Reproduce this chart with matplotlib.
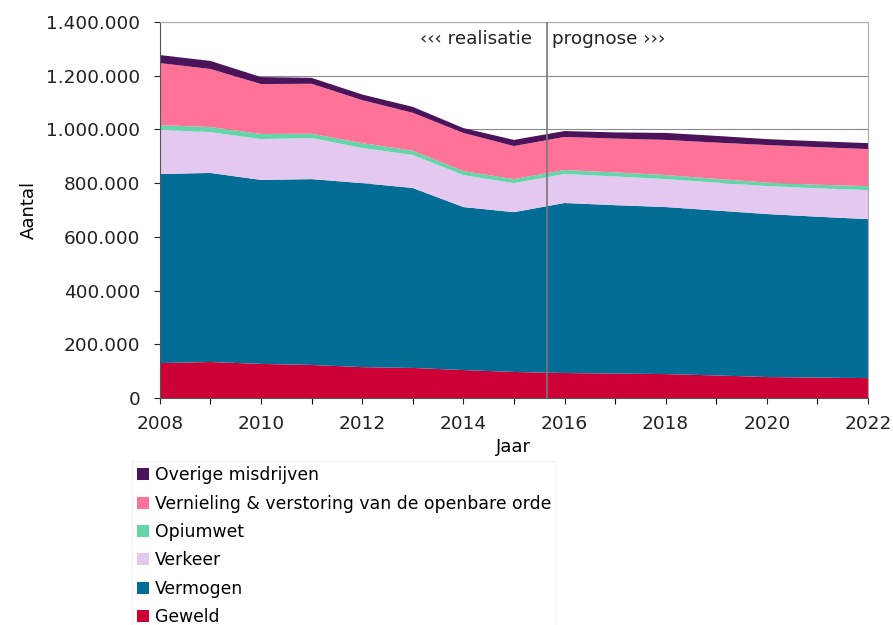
import matplotlib
matplotlib.use("Agg")
import matplotlib.pyplot as plt
from matplotlib.patches import Patch
from matplotlib.ticker import FuncFormatter, MultipleLocator

# jaren en aantallen per categorie
jaren = list(range(2008, 2023))
geweld = [130000, 134000, 127000, 123000, 115000, 112000, 104000, 97000,
          93000, 91000, 89000, 84000, 78000, 76000, 74000]
vermogen = [704000, 704000, 685000, 692000, 685000, 670000, 607000, 595000,
            633000, 627000, 622000, 614000, 607000, 599000, 592000]
verkeer = [164000, 152000, 152000, 153000, 131000, 123000, 119000, 108000,
           108000, 107000, 104000, 104000, 104000, 106000, 108000]
opiumwet = [18000, 19000, 19000, 16000, 18000, 16000, 15000, 15000,
            15000, 15000, 15000, 14000, 13000, 13000, 15000]
vernieling = [231000, 216000, 186000, 186000, 160000, 141000, 142000, 123000,
              123000, 126000, 131000, 135000, 140000, 140000, 138000]
overige = [30000, 30000, 26000, 22000, 21000, 22000, 18000, 23000,
           22000, 23000, 26000, 25000, 22000, 22000, 22000]

labels = ["Geweld", "Vermogen", "Verkeer", "Opiumwet",
          "Vernieling & verstoring van de openbare orde", "Overige misdrijven"]
kleuren = ["#CC0036", "#046D95", "#E4C8F0", "#62D6A8", "#FF7298", "#4A135A"]
grens = 2015.65

plt.rcParams['font.family'] = ['DejaVu Sans']

fig = plt.figure(figsize=(8.93, 6.25), dpi=100)
ax = fig.add_axes([0.179, 0.3632, 0.793, 0.6016])

ax.stackplot(jaren, geweld, vermogen, verkeer, opiumwet, vernieling, overige,
             colors=kleuren, labels=labels, lw=0, zorder=2)

ax.set_xlim(2008, 2022)
ax.set_ylim(0, 1400000)
ax.xaxis.set_major_locator(MultipleLocator(2))
ax.xaxis.set_minor_locator(MultipleLocator(1))
ax.yaxis.set_major_locator(MultipleLocator(200000))
ax.yaxis.set_major_formatter(FuncFormatter(lambda v, p: f"{int(v):,}".replace(",", ".")))
ax.tick_params(axis='both', labelsize=13.3, colors='#222222', length=4, width=0.8)
ax.tick_params(axis='x', which='minor', length=4, width=0.8)
ax.tick_params(axis='x', pad=8)
ax.tick_params(axis='y', pad=10)

ax.grid(axis='y', color='#8a8a8a', lw=0.8, zorder=1)
ax.set_axisbelow(True)
for side in ['left', 'bottom']:
    ax.spines[side].set_color('#555555')
for side in ['top', 'right']:
    ax.spines[side].set_color('#aaaaaa')

ax.axvline(grens, color='#777777', lw=1.2, zorder=3)
ax.text(grens - 0.3, 1335000, "\u2039\u2039\u2039 realisatie", ha='right', va='center',
        fontsize=13.2, color='#222222')
ax.text(grens + 0.1, 1335000, "prognose \u203a\u203a\u203a", ha='left', va='center',
        fontsize=13.2, color='#222222')

ax.set_xlabel("Jaar", fontsize=13, labelpad=4)
ax.set_ylabel("Aantal", fontsize=13, labelpad=6)

handles = [Patch(facecolor=c, label=l) for c, l in zip(kleuren, labels)][::-1]
leg = fig.legend(handles=handles, loc='upper left', bbox_to_anchor=(0.148, 0.262),
                 fontsize=12.4, frameon=True, fancybox=False, edgecolor='#eeeeee',
                 handlelength=0.7, handleheight=0.7, handletextpad=0.3,
                 labelspacing=0.6, borderpad=0.3, borderaxespad=0)

fig.savefig("out.png", dpi=100)
